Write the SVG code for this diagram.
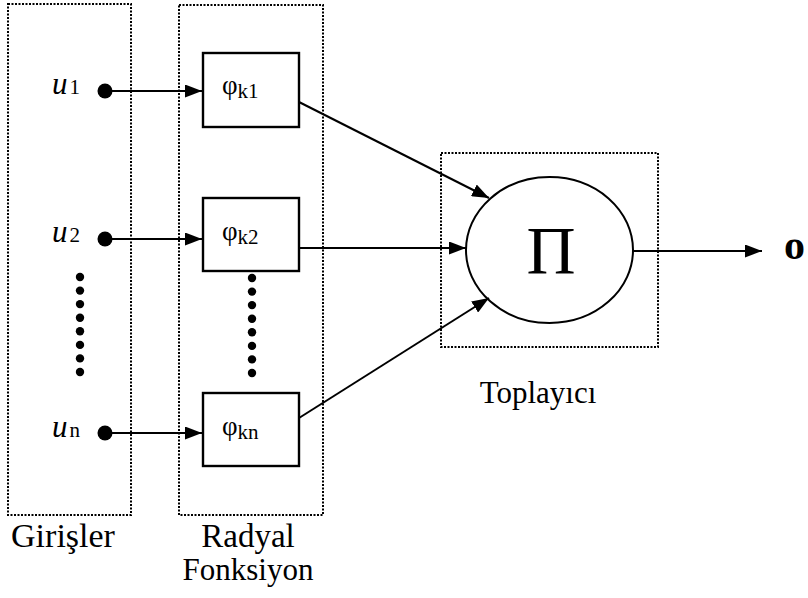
<svg xmlns="http://www.w3.org/2000/svg" width="808" height="598" viewBox="0 0 808 598">
<style>
.grp{fill:none;stroke:#000;stroke-width:2;stroke-dasharray:2 1.5}
.box{fill:#fff;stroke:#000;stroke-width:2.4}
.con{fill:none;stroke:#000;stroke-width:2}
.dot{fill:#000}
.t{font-family:"Liberation Serif","Times New Roman",serif;fill:#000}
.lbl{font-size:31px}
.phi{font-size:27px}
.sub{font-size:21px}
</style>
<defs>
<marker id="ah" markerWidth="17" markerHeight="13" refX="17" refY="6.5" orient="auto" markerUnits="userSpaceOnUse">
<path d="M0,0 L17,6.5 L0,13 Z" fill="#000"/>
</marker>
</defs>
<g id="girisler">
<rect class="grp" x="8" y="4" width="123" height="511"/>
<text class="t lbl" x="63" y="547" text-anchor="middle" style="font-size:34px">Girişler</text>
</g>
<g id="radyal">
<rect class="grp" x="179" y="5" width="144" height="510"/>
<text class="t lbl" x="248" y="547" text-anchor="middle" style="font-size:33px">Radyal</text>
<text class="t lbl" x="248" y="580" text-anchor="middle">Fonksiyon</text>
</g>
<g id="toplayici">
<rect class="grp" x="441" y="153" width="217" height="194"/>
<text class="t lbl" x="538" y="403" text-anchor="middle">Toplayıcı</text>
</g>
<g id="u1">
<circle class="dot" cx="105" cy="91" r="7.5"/>
<text class="t" x="52" y="94"><tspan font-size="31" font-style="italic">u</tspan><tspan font-size="21" dx="2">1</tspan></text>
</g>
<g id="u2">
<circle class="dot" cx="105" cy="239" r="7.5"/>
<text class="t" x="52" y="242"><tspan font-size="31" font-style="italic">u</tspan><tspan font-size="21" dx="2">2</tspan></text>
</g>
<g id="un">
<circle class="dot" cx="105" cy="433" r="7.5"/>
<text class="t" x="52" y="437"><tspan font-size="31" font-style="italic">u</tspan><tspan font-size="21" dx="2">n</tspan></text>
</g>
<g id="dots-left">
<circle class="dot" cx="80" cy="277" r="4.2"/>
<circle class="dot" cx="80" cy="290.6" r="4.2"/>
<circle class="dot" cx="80" cy="304.1" r="4.2"/>
<circle class="dot" cx="80" cy="317.7" r="4.2"/>
<circle class="dot" cx="80" cy="331.3" r="4.2"/>
<circle class="dot" cx="80" cy="344.9" r="4.2"/>
<circle class="dot" cx="80" cy="358.4" r="4.2"/>
<circle class="dot" cx="80" cy="372" r="4.2"/>
</g>
<g id="dots-right">
<circle class="dot" cx="252" cy="278" r="4.2"/>
<circle class="dot" cx="252" cy="291.6" r="4.2"/>
<circle class="dot" cx="252" cy="305.1" r="4.2"/>
<circle class="dot" cx="252" cy="318.7" r="4.2"/>
<circle class="dot" cx="252" cy="332.3" r="4.2"/>
<circle class="dot" cx="252" cy="345.9" r="4.2"/>
<circle class="dot" cx="252" cy="359.4" r="4.2"/>
<circle class="dot" cx="252" cy="373" r="4.2"/>
</g>
<g id="phik1">
<rect class="box" x="203" y="53" width="96" height="74"/>
<text class="t phi" x="222" y="94">φ<tspan class="sub" dy="4">k1</tspan></text>
</g>
<g id="phik2">
<rect class="box" x="203" y="198" width="96" height="73"/>
<text class="t phi" x="222" y="240">φ<tspan class="sub" dy="4">k2</tspan></text>
</g>
<g id="phikn">
<rect class="box" x="203" y="393" width="96" height="73"/>
<text class="t phi" x="222" y="435">φ<tspan class="sub" dy="4">kn</tspan></text>
</g>
<g id="pi">
<ellipse cx="549.5" cy="250" rx="83.5" ry="73" fill="#fff" stroke="#000" stroke-width="2"/>
<text class="t" x="551" y="273" font-size="68" text-anchor="middle">Π</text>
</g>
<g id="output">
<text class="t" x="784" y="259" font-size="42" font-weight="bold">o</text>
</g>
<g id="connectors">
<line class="con" x1="112" y1="91" x2="202" y2="91" marker-end="url(#ah)"/>
<line class="con" x1="112" y1="239" x2="202" y2="239" marker-end="url(#ah)"/>
<line class="con" x1="112" y1="433" x2="202" y2="433" marker-end="url(#ah)"/>
<line class="con" x1="299" y1="102" x2="489" y2="198" marker-end="url(#ah)"/>
<line class="con" x1="299" y1="248" x2="466" y2="248" marker-end="url(#ah)"/>
<line class="con" x1="299" y1="418" x2="489" y2="298" marker-end="url(#ah)"/>
<line class="con" x1="633" y1="251" x2="762" y2="251" marker-end="url(#ah)"/>
</g>
</svg>
